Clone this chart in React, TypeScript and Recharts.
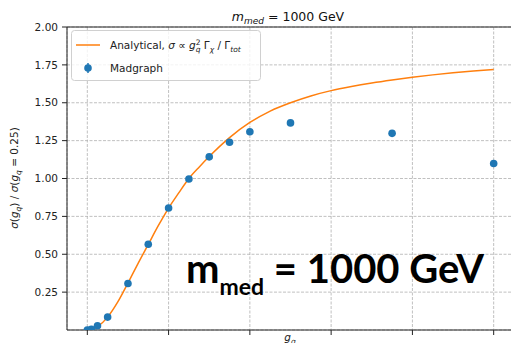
import {
  CartesianGrid,
  ComposedChart,
  Line,
  ReferenceLine,
  Scatter,
  XAxis,
  YAxis,
} from "recharts";

// analytical curve, sigma(g_q) / sigma(g_q = 0.25)
const curveG = [
  0, 0.025, 0.05, 0.075, 0.1, 0.125, 0.15, 0.175, 0.2, 0.225, 0.25, 0.275, 0.3,
  0.35, 0.4, 0.45, 0.5, 0.55, 0.6, 0.65, 0.7, 0.75, 0.8, 0.85, 0.9, 0.95, 1.0,
];
const curveRatio = [
  0, 0.022, 0.085, 0.185, 0.31, 0.44, 0.565, 0.69, 0.805, 0.905, 1.0, 1.075,
  1.145, 1.27, 1.37, 1.445, 1.5, 1.545, 1.58, 1.607, 1.63, 1.65, 1.668, 1.684,
  1.698, 1.71, 1.72,
];

// madgraph points
const madgraphG = [
  0, 0.01, 0.025, 0.05, 0.1, 0.15, 0.2, 0.25, 0.3, 0.35, 0.4, 0.5, 0.75, 1.0,
];
const madgraphRatio = [
  0, 0.005, 0.028, 0.085, 0.307, 0.566, 0.805, 0.997, 1.143, 1.239, 1.309,
  1.367, 1.298, 1.099,
];

const xTicks = [0, 0.2, 0.4, 0.6, 0.8, 1.0];
const yTicks = [0.25, 0.5, 0.75, 1.0, 1.25, 1.5, 1.75, 2.0];

const curveData = curveG.map((g, i) => ({ g, y: curveRatio[i] }));
const madgraphData = madgraphG.map((g, i) => ({ g, y: madgraphRatio[i] }));

const FONT = "DejaVu Sans";
const BLUE = "#1f77b4";
const ORANGE = "#ff7f0e";

const Dot = (props: any) => (
  <circle cx={props.cx} cy={props.cy} r={3.8} fill={BLUE} />
);

function Overlay() {
  return (
    <svg
      width={511}
      height={343}
      style={{ position: "absolute", left: 0, top: 0, pointerEvents: "none" }}
      fontFamily={FONT}
    >
      {/* title */}
      <text x={288} y={21} textAnchor="middle" fontSize={12.5} fill="#111">
        <tspan fontStyle="italic">m</tspan>
        <tspan fontStyle="italic" fontSize={9} dy={2.5}>
          med
        </tspan>
        <tspan dy={-2.5}> = 1000 GeV</tspan>
      </text>

      {/* y label */}
      <text
        transform="translate(18,178) rotate(-90)"
        textAnchor="middle"
        fontSize={10.5}
        fill="#222"
      >
        <tspan fontStyle="italic">σ</tspan>
        <tspan>(</tspan>
        <tspan fontStyle="italic">g</tspan>
        <tspan fontStyle="italic" fontSize={7.5} dy={2.5}>
          q
        </tspan>
        <tspan dy={-2.5}>) / </tspan>
        <tspan fontStyle="italic">σ</tspan>
        <tspan>(</tspan>
        <tspan fontStyle="italic">g</tspan>
        <tspan fontStyle="italic" fontSize={7.5} dy={2.5}>
          q
        </tspan>
        <tspan dy={-2.5}> = 0.25)</tspan>
      </text>

      {/* x label, cut by the bottom edge as in the original */}
      <text x={290} y={341} textAnchor="middle" fontSize={10.5} fill="#222">
        <tspan fontStyle="italic">g</tspan>
        <tspan fontStyle="italic" fontSize={7.5} dy={2.5}>
          q
        </tspan>
      </text>

      {/* legend */}
      <rect
        x={71.5}
        y={30.5}
        width={189}
        height={50}
        rx={3}
        fill="#fff"
        fillOpacity={0.8}
        stroke="#d0d0d0"
      />
      <line x1={76} y1={45} x2={100} y2={45} stroke={ORANGE} strokeWidth={1.5} />
      <text x={110} y={49} fontSize={10.5} fill="#222">
        <tspan>Analytical, </tspan>
        <tspan fontStyle="italic">σ</tspan>
        <tspan> ∝ </tspan>
        <tspan fontStyle="italic">g</tspan>
        <tspan fontSize={7.5} dy={-4.5}>
          2
        </tspan>
        <tspan fontStyle="italic" fontSize={7.5} dx={-4.8} dy={7}>
          q
        </tspan>
        <tspan dy={-2.5}> Γ</tspan>
        <tspan fontStyle="italic" fontSize={7.5} dy={2.5}>
          χ
        </tspan>
        <tspan dy={-2.5}> / Γ</tspan>
        <tspan fontStyle="italic" fontSize={7.5} dy={2.5}>
          tot
        </tspan>
      </text>
      <line x1={88} y1={63} x2={88} y2={73} stroke={BLUE} strokeWidth={1.5} />
      <circle cx={88} cy={68} r={3.8} fill={BLUE} />
      <text x={110} y={72} fontSize={10.5} fill="#222">
        Madgraph
      </text>

      {/* big annotation */}
      <text x={186} y={283} fontFamily="Lato" fontWeight={700} fill="#000">
        <tspan fontSize={40}>m</tspan>
        <tspan fontSize={23} dy={12}>
          med
        </tspan>
        <tspan fontSize={40} dy={-12}>
          {" "}= 1000 GeV
        </tspan>
      </text>
    </svg>
  );
}

export default function App() {
  return (
    <div
      style={{
        position: "absolute",
        left: 0,
        top: 0,
        width: 511,
        height: 343,
        overflow: "hidden",
        background: "#fff",
      }}
    >
      <ComposedChart
        width={514}
        height={343}
        margin={{ top: 27, right: 0, bottom: 0, left: 0 }}
      >
        <CartesianGrid stroke="#b0b0b0" strokeDasharray="3 1.5" strokeWidth={0.8} />
        <XAxis
          type="number"
          dataKey="g"
          domain={[-0.05, 1.05]}
          ticks={xTicks}
          height={13}
          tickSize={5}
          tick={() => <g />}
          stroke="#222"
          allowDataOverflow
        />
        <YAxis
          type="number"
          dataKey="y"
          domain={[0, 2]}
          ticks={yTicks}
          width={67}
          tickSize={5}
          tickMargin={4}
          stroke="#222"
          tick={{ fill: "#222", fontSize: 10.5, fontFamily: FONT }}
          tickFormatter={(v) => Number(v).toFixed(2)}
          allowDataOverflow
        />
        <ReferenceLine y={2} stroke="#222" />
        <Line
          data={curveData}
          dataKey="y"
          type="monotone"
          stroke={ORANGE}
          strokeWidth={1.5}
          dot={false}
          isAnimationActive={false}
        />
        <Scatter
          data={madgraphData}
          dataKey="y"
          shape={Dot}
          isAnimationActive={false}
        />
      </ComposedChart>
      <Overlay />
    </div>
  );
}
